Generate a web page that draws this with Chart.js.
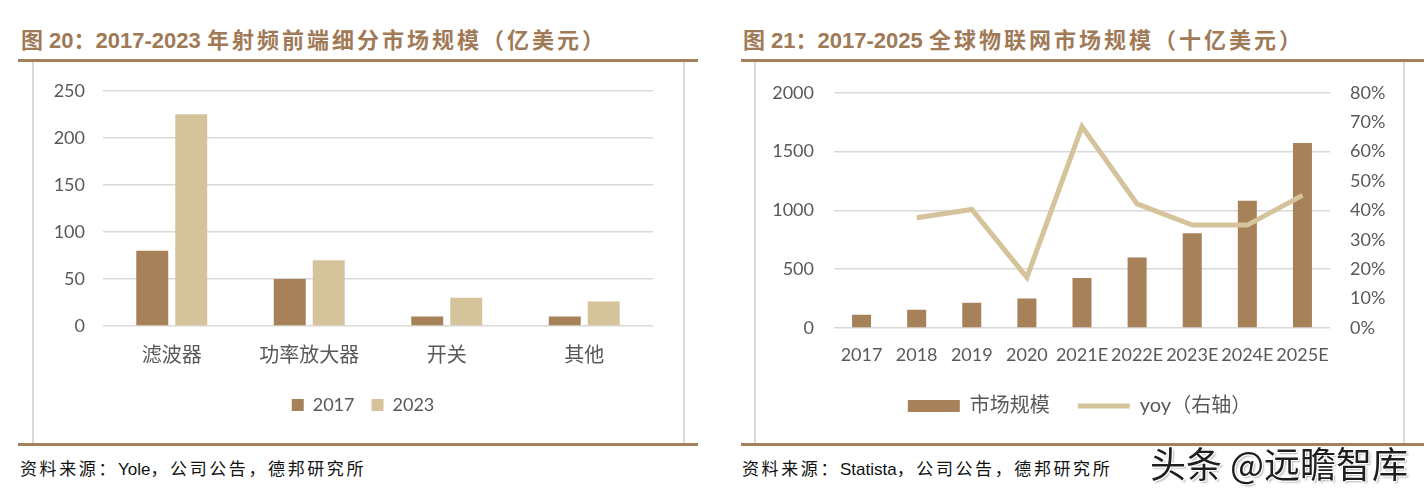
<!DOCTYPE html>
<html>
<head>
<meta charset="utf-8">
<script src="https://cdn.jsdelivr.net/npm/chart.js@4/dist/chart.umd.min.js"></script>
<style>
  body { margin: 0; background: #fff; width: 1428px; height: 493px; position: relative; overflow: hidden; }
  .title { position: absolute; top: 22px; line-height: 30px; font: bold 22px "Liberation Sans Narrow", "Liberation Sans", "Noto Sans CJK SC", sans-serif; color: #a07a56; white-space: nowrap; }
  .title .cn { font-family: "Noto Sans CJK SC", sans-serif; letter-spacing: 3px; }
  .rule { position: absolute; height: 3px; background: #a5805d; }
  .vline { position: absolute; width: 2px; background: #d9d9d9; top: 62px; height: 381px; }
  .src { position: absolute; top: 455px; line-height: 24px; font: 17px "Liberation Sans", "Noto Sans CJK SC", sans-serif; letter-spacing: 2.6px; color: #111; white-space: nowrap; }
  .src .lat { letter-spacing: 0; }
  .wm { position: absolute; left: 1150px; top: 436px; line-height: 52px; font: 400 36px "Noto Sans CJK SC", sans-serif; color: #1e1e1e; white-space: nowrap;
        text-shadow: 1px 1px 0 #fff, -1px -1px 0 #fff, 1px -1px 0 #fff, -1px 1px 0 #fff, 2px 2px 2px rgba(0,0,0,0.3); }
  canvas { position: absolute; }
</style>
</head>
<body>
<div class="title" style="left:21px">图 20：2017-2023 <span class="cn">年射频前端细分市场规模（亿美元）</span></div>
<div class="title" style="left:743px">图 21：2017-2025 <span class="cn">全球物联网市场规模（十亿美元）</span></div>

<div class="rule" style="left:18px; top:59px; width:680px"></div>
<div class="rule" style="left:741px; top:59px; width:683px"></div>
<div class="vline" style="left:32px"></div>
<div class="vline" style="left:683px"></div>
<div class="vline" style="left:754px"></div>
<div class="vline" style="left:1403px"></div>
<div class="rule" style="left:18px; top:443px; width:680px"></div>
<div class="rule" style="left:741px; top:443px; width:683px"></div>

<canvas id="rf" width="650" height="381" style="left:33px; top:62px"></canvas>
<canvas id="iot" width="649" height="381" style="left:755px; top:62px"></canvas>

<div class="src" style="left:20px">资料来源：<span class="lat">Yole</span>，公司公告，德邦研究所</div>
<div class="src" style="left:742px">资料来源：<span class="lat">Statista</span>，公司公告，德邦研究所</div>
<div class="wm">头条 @远瞻智库</div>

<script>
// 图20 射频前端细分市场规模（亿美元）
const rfCategories = ['滤波器', '功率放大器', '开关', '其他']
const rf2017 = [80, 50, 10, 10]
const rf2023 = [225, 70, 30, 26]
const rfTicks = [0, 50, 100, 150, 200, 250]

// 图21 全球物联网市场规模（十亿美元）
const iotYears = ['2017', '2018', '2019', '2020', '2021E', '2022E', '2023E', '2024E', '2025E']
const iotMarket = [113, 155, 215, 250, 425, 600, 805, 1083, 1573]
const iotYoy = [null, 0.375, 0.403, 0.172, 0.685, 0.422, 0.35, 0.35, 0.451]

const darkBrown = '#a7815a'
const lightTan = '#d5c39c'
const tickGray = '#595959'
const gridGray = '#d9d9d9'

Chart.defaults.font.family = 'Lato, "Noto Sans CJK SC", sans-serif'
Chart.defaults.color = tickGray
Chart.defaults.animation = false

// nudge the legend sideways after layout (legend box spans the padded width)
const legendShift = dx => ({
  id: 'legendShift',
  afterLayout (chart) {
    chart.legend.left += dx
    chart.legend.right += dx
  }
})

function build () {
  new Chart(document.getElementById('rf').getContext('2d'), {
    type: 'bar',
    data: {
      labels: rfCategories,
      datasets: [
        { label: '2017', data: rf2017, backgroundColor: darkBrown },
        { label: '2023', data: rf2023, backgroundColor: lightTan }
      ]
    },
    options: {
      responsive: false,
      categoryPercentage: 0.567,
      barPercentage: 0.82,
      layout: { padding: { top: 28, right: 30, bottom: 19, left: 0 } },
      scales: {
        x: {
          grid: { display: false, drawTicks: false },
          border: { display: false },
          ticks: { font: { size: 20, family: '"Noto Sans CJK SC", sans-serif' }, padding: 16, maxRotation: 0 },
          afterFit (scale) { scale.height = 53 }
        },
        y: {
          min: rfTicks[0],
          max: rfTicks[rfTicks.length - 1],
          afterBuildTicks (scale) { scale.ticks = rfTicks.map(v => ({ value: v })) },
          grid: { color: gridGray, lineWidth: 1.5, drawTicks: false },
          border: { display: false },
          ticks: { font: { size: 18 }, padding: 18 },
          afterFit (scale) { scale.width = 70 }
        }
      },
      plugins: {
        tooltip: { enabled: false },
        legend: {
          position: 'bottom',
          labels: { boxWidth: 12, boxHeight: 12, padding: 17, font: { size: 18 }, color: tickGray }
        }
      }
    },
    plugins: [legendShift(20)]
  })

  new Chart(document.getElementById('iot').getContext('2d'), {
    type: 'bar',
    data: {
      labels: iotYears,
      datasets: [
        {
          type: 'bar',
          label: '市场规模',
          data: iotMarket,
          backgroundColor: darkBrown,
          borderWidth: 0,
          pointStyle: 'rect',
          yAxisID: 'y',
          order: 2
        },
        {
          type: 'line',
          label: 'yoy（右轴）',
          data: iotYoy,
          borderColor: lightTan,
          backgroundColor: lightTan,
          borderWidth: 5,
          pointRadius: 0,
          pointStyle: 'line',
          tension: 0,
          spanGaps: false,
          yAxisID: 'y1',
          order: 1
        }
      ]
    },
    options: {
      responsive: false,
      categoryPercentage: 0.345,
      barPercentage: 1,
      layout: { padding: { top: 29, right: 0, bottom: 17, left: 0 } },
      scales: {
        x: {
          grid: { display: false, drawTicks: false },
          border: { display: false },
          ticks: { font: { size: 18 }, padding: 16, maxRotation: 0, autoSkip: false },
          afterFit (scale) { scale.height = 40 }
        },
        y: {
          position: 'left',
          min: 0,
          max: 2000,
          ticks: { stepSize: 500, font: { size: 18 }, padding: 20, callback: v => String(v) },
          grid: { color: gridGray, lineWidth: 1.5, drawTicks: false },
          border: { display: false },
          afterFit (scale) { scale.width = 79 }
        },
        y1: {
          position: 'right',
          min: 0,
          max: 0.8,
          ticks: {
            stepSize: 0.1,
            font: { size: 18 },
            padding: 20,
            callback: v => Math.round(v * 100) + '%'
          },
          grid: { drawOnChartArea: false, drawTicks: false },
          border: { display: false },
          afterFit (scale) { scale.width = 74 }
        }
      },
      plugins: {
        tooltip: { enabled: false },
        legend: {
          position: 'bottom',
          labels: {
            usePointStyle: true,
            pointStyleWidth: 52,
            boxHeight: 12,
            padding: 28,
            font: { size: 20 },
            color: tickGray,
            sort: (a, b) => a.datasetIndex - b.datasetIndex
          }
        }
      }
    }
  })
}

build()
</script>
</body>
</html>
